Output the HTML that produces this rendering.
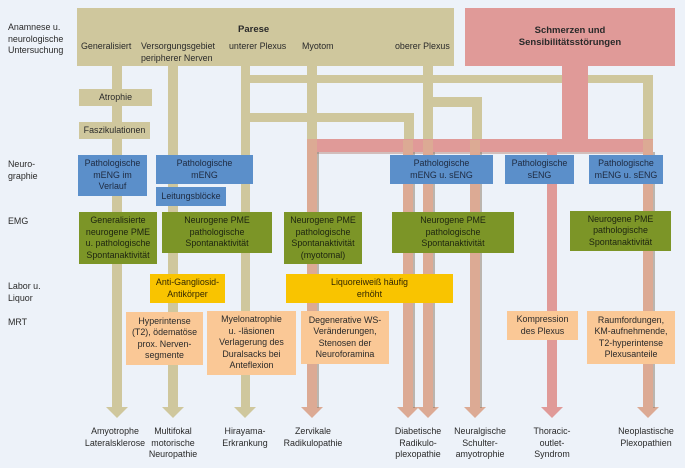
<!DOCTYPE html>
<html><head><meta charset="utf-8"><style>
html,body{margin:0;padding:0;background:#edf2f9;}
body{width:685px;height:468px;position:relative;overflow:hidden;font-family:"Liberation Sans",sans-serif;font-size:8.9px;color:#2a2a2a;}
.b{position:absolute;display:flex;align-items:center;justify-content:center;text-align:center;line-height:11.5px;box-sizing:border-box;}
.tan{background:#cfc79d;} .blu{background:#5b8fca;color:#1e2a40;} .grn{background:#7c9527;color:#1d2410;}
.yel{background:#f9c400;color:#332700;} .pch{background:#fac896;} .pnk{background:#e09a98;}
.l{position:absolute;line-height:11.5px;white-space:nowrap;}
.bl{position:absolute;text-align:center;line-height:11.5px;width:90px;}
</style></head><body>
<svg width="685" height="468" style="position:absolute;left:0;top:0">
<g fill="#cfc79d">
<rect x="112" y="60" width="10" height="350"/>
<rect x="168" y="60" width="10" height="350"/>
<rect x="241" y="60" width="9" height="350"/>
<rect x="307" y="60" width="10" height="80"/>
<rect x="250" y="75" width="403" height="8"/>
<rect x="643" y="75" width="10" height="70"/>
<rect x="250" y="113" width="164" height="9"/>
<rect x="404" y="113" width="10" height="30"/>
<rect x="423" y="60" width="10" height="83"/>
<rect x="433" y="97" width="49" height="10"/>
<rect x="472" y="97" width="10" height="46"/>
<polygon points="106,407 128,407 117,418"/>
<polygon points="162,407 184,407 173,418"/>
<polygon points="234,407 256,407 245,418"/>
</g>
<rect x="562" y="60" width="26" height="85" fill="#e09a98"/>
<rect x="307" y="139" width="346" height="13" fill="#e09a98"/>
<rect x="317" y="152" width="336" height="2" fill="#b88a80" opacity=".5"/>
<g fill="#dcaa94">
<rect x="307" y="139" width="10" height="270"/>
<rect x="403" y="140" width="10" height="269"/>
<rect x="423" y="140" width="10" height="269"/>
<rect x="470" y="140" width="10" height="269"/>
<rect x="643" y="140" width="10" height="269"/>
<polygon points="301,407 323,407 312,418"/>
<polygon points="397,407 419,407 408,418"/>
<polygon points="417,407 439,407 428,418"/>
<polygon points="464,407 486,407 475,418"/>
<polygon points="637,407 659,407 648,418"/>
</g>
<g fill="#8a7a66" opacity=".5">
<rect x="317" y="152" width="2" height="256"/><rect x="413" y="152" width="2" height="256"/>
<rect x="433" y="152" width="2" height="256"/><rect x="480" y="152" width="2" height="256"/>
<rect x="653" y="152" width="2" height="256"/>
</g>
<rect x="547" y="150" width="10" height="259" fill="#e09a98"/>
<polygon points="541,407 563,407 552,418" fill="#e09a98"/>
</svg>

<div class="b tan" style="left:77px;top:8px;width:377px;height:58px"></div>
<div class="l" style="left:238px;top:24px;font-weight:bold;font-size:9.5px">Parese</div>
<div class="l" style="left:81px;top:41px">Generalisiert</div>
<div class="l" style="left:141px;top:41px">Versorgungsgebiet<br>peripherer Nerven</div>
<div class="l" style="left:229px;top:41px">unterer Plexus</div>
<div class="l" style="left:302px;top:41px">Myotom</div>
<div class="l" style="left:395px;top:41px">oberer Plexus</div>
<div class="b pnk" style="left:465px;top:8px;width:210px;height:58px;font-weight:bold;font-size:9.5px;line-height:12px">Schmerzen und<br>Sensibilitätsstörungen</div>

<div class="l" style="left:8px;top:22px">Anamnese u.<br>neurologische<br>Untersuchung</div>
<div class="l" style="left:8px;top:159px">Neuro-<br>graphie</div>
<div class="l" style="left:8px;top:216px">EMG</div>
<div class="l" style="left:8px;top:281px">Labor u.<br>Liquor</div>
<div class="l" style="left:8px;top:317px">MRT</div>

<div class="b tan" style="left:79px;top:89px;width:73px;height:17px">Atrophie</div>
<div class="b tan" style="left:79px;top:122px;width:71px;height:17px">Faszikulationen</div>

<div class="b blu" style="left:78px;top:155px;width:69px;height:41px">Pathologische<br>mENG im<br>Verlauf</div>
<div class="b blu" style="left:156px;top:155px;width:97px;height:29px">Pathologische<br>mENG</div>
<div class="b blu" style="left:156px;top:187px;width:70px;height:19px">Leitungsblöcke</div>
<div class="b blu" style="left:390px;top:155px;width:103px;height:29px">Pathologische<br>mENG u. sENG</div>
<div class="b blu" style="left:505px;top:155px;width:69px;height:29px">Pathologische<br>sENG</div>
<div class="b blu" style="left:589px;top:155px;width:74px;height:29px">Pathologische<br>mENG u. sENG</div>

<div class="b grn" style="left:79px;top:212px;width:78px;height:52px">Generalisierte<br>neurogene PME<br>u. pathologische<br>Spontanaktivität</div>
<div class="b grn" style="left:162px;top:212px;width:110px;height:41px">Neurogene PME<br>pathologische<br>Spontanaktivität</div>
<div class="b grn" style="left:284px;top:212px;width:78px;height:52px">Neurogene PME<br>pathologische<br>Spontanaktivität<br>(myotomal)</div>
<div class="b grn" style="left:392px;top:212px;width:122px;height:41px">Neurogene PME<br>pathologische<br>Spontanaktivität</div>
<div class="b grn" style="left:570px;top:211px;width:101px;height:40px">Neurogene PME<br>pathologische<br>Spontanaktivität</div>

<div class="b yel" style="left:150px;top:274px;width:75px;height:29px">Anti-Gangliosid-<br>Antikörper</div>
<div class="b yel" style="left:286px;top:274px;width:167px;height:29px">Liquoreiweiß häufig<br>erhöht</div>

<div class="b pch" style="left:126px;top:312px;width:77px;height:53px">Hyperintense<br>(T2), ödematöse<br>prox. Nerven-<br>segmente</div>
<div class="b pch" style="left:207px;top:311px;width:89px;height:64px">Myelonatrophie<br>u. -läsionen<br>Verlagerung des<br>Duralsacks bei<br>Anteflexion</div>
<div class="b pch" style="left:301px;top:311px;width:88px;height:53px">Degenerative WS-<br>Veränderungen,<br>Stenosen der<br>Neuroforamina</div>
<div class="b pch" style="left:507px;top:311px;width:71px;height:29px">Kompression<br>des Plexus</div>
<div class="b pch" style="left:587px;top:311px;width:88px;height:53px">Raumfordungen,<br>KM-aufnehmende,<br>T2-hyperintense<br>Plexusanteile</div>

<div class="bl" style="left:70px;top:426px">Amyotrophe<br>Lateralsklerose</div>
<div class="bl" style="left:128px;top:426px">Multifokal<br>motorische<br>Neuropathie</div>
<div class="bl" style="left:200px;top:426px">Hirayama-<br>Erkrankung</div>
<div class="bl" style="left:268px;top:426px">Zervikale<br>Radikulopathie</div>
<div class="bl" style="left:373px;top:426px">Diabetische<br>Radikulo-<br>plexopathie</div>
<div class="bl" style="left:435px;top:426px">Neuralgische<br>Schulter-<br>amyotrophie</div>
<div class="bl" style="left:507px;top:426px">Thoracic-<br>outlet-<br>Syndrom</div>
<div class="bl" style="left:601px;top:426px">Neoplastische<br>Plexopathien</div>
</body></html>
